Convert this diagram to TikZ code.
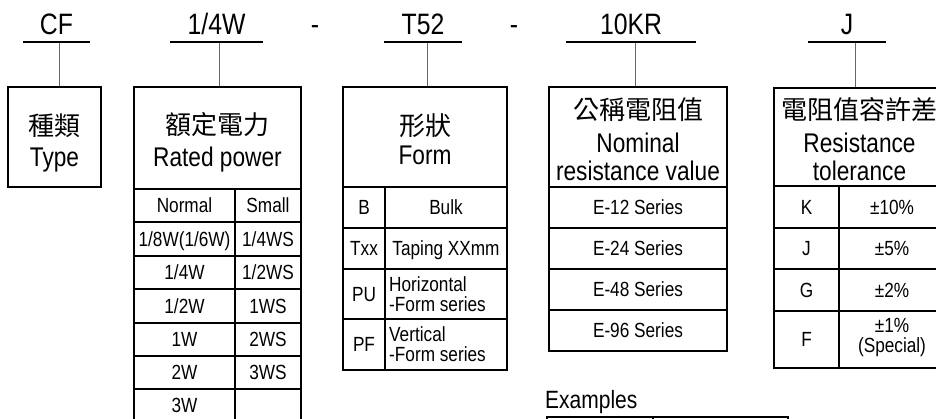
\documentclass[tikz,border=0pt]{standalone}
\usepackage{fontspec}
\setmainfont[FakeStretch=0.84]{Liberation Sans}
\newfontfamily\cjk{Noto Sans CJK TC}
\begin{document}
\begin{tikzpicture}[x=1pt,y=-1pt,line join=miter,
	code/.style={font=\fontsize{29.5}{30}\selectfont,inner sep=0pt,anchor=base},
	title/.style={font=\fontsize{27}{27}\selectfont,inner sep=0pt,anchor=base},
	zh/.style={font=\cjk\fontsize{26}{26}\selectfont,inner sep=0pt,anchor=base},
	cell/.style={font=\fontsize{20.5}{20}\selectfont,inner sep=0pt,text height=14.7pt,text depth=0pt},
	pair/.style={font=\fontsize{20.5}{20}\selectfont,inner sep=0pt,align=left,anchor=west},
	bar/.style={line width=2.7pt},
	frame/.style={line width=2.6pt},
	link/.style={line width=1pt,draw=black!60}]
	\useasboundingbox (0,0) rectangle (936,419);
	% part code
	\node[code] (cf) at (56.5,35) {CF};
	\node[code] (pw) at (216.5,35) {1/4W};
	\node[code] (dash1) at (315,35) {-};
	\node[code] (fm) at (423,35) {T52};
	\node[code] (dash2) at (514,35) {-};
	\node[code] (rv) at (631,35) {10KR};
	\node[code] (tl) at (847,35) {J};
	\foreach \l/\r/\m/\n in {23/90/59/cf,170/263/219/pw,384/462/427/fm,566/696/635/rv,808/886/855/tl}
	{
		\path (\m,42) coordinate (\n-top) (\m,87) coordinate (\n-box);
		\draw[link] (\n-top) -- (\n-box);
		\draw[bar] (\l,42) -- (\r,42);
	}
	% type
	\draw[frame] (8,87) rectangle (101,187);
	\node[zh] (cf-zh) at (54.5,136) {種類};
	\node[title] (cf-en) at (54.5,167) {Type};
	% rated power
	\draw[frame] (134,87) rectangle (301,425);
	\draw[frame] (235,189) -- (235,425);
	\foreach \y in {189,222,256,289,323,356,389}
	\draw[frame] (134,\y) -- (301,\y);
	\node[zh] (pw-zh) at (217.5,135) {額定電力};
	\node[title] (pw-en) at (217.5,167) {Rated power};
	\foreach \y/\a/\b [count=\i] in {205.5/Normal/Small,239/1\slash8W(1\slash6W)/1\slash4WS,272.5/1\slash4W/1\slash2WS,306/1\slash2W/1WS,339.5/1W/2WS,372.5/2W/3WS,405.5/3W/{}}
	{
		\node[cell] (pw-a\i) at (184.5,\y) {\a};
		\node[cell] (pw-b\i) at (268,\y) {\b};
	}
	% form
	\draw[frame] (343,87) rectangle (507,370);
	\draw[frame] (385,187) -- (385,370);
	\foreach \y in {187,228,269,319}
	\draw[frame] (343,\y) -- (507,\y);
	\node[zh] (fm-zh) at (425,136) {形狀};
	\node[title] (fm-en) at (425,164.5) {Form};
	\node[cell] (fm-a1) at (364,207.5) {B};
	\node[cell] (fm-b1) at (446,207.5) {Bulk};
	\node[cell] (fm-a2) at (364,248.5) {Txx};
	\node[cell] (fm-b2) at (446,248.5) {Taping XXmm};
	\node[cell] (fm-a3) at (364,294) {PU};
	\node[pair] (fm-b3) at (389,294) {Horizontal\\-Form series};
	\node[cell] (fm-a4) at (364,344.5) {PF};
	\node[pair] (fm-b4) at (389,344.5) {Vertical\\-Form series};
	% resistance value
	\draw[frame] (549,87) rectangle (727,351);
	\foreach \y in {187,228,269,310}
	\draw[frame] (549,\y) -- (727,\y);
	\node[zh] (rv-zh) at (638,120) {公稱電阻值};
	\node[title] (rv-en1) at (638,153) {Nominal};
	\node[title] (rv-en2) at (638,181) {resistance value};
	\foreach \y/\s [count=\i] in {207.5/12,248.5/24,289.5/48,330.5/96}
	\node[cell] (rv-s\i) at (638,\y) {E-\s\ Series};
	% tolerance
	\draw[frame] (774,88) rectangle (945,368);
	\draw[frame] (839,186) -- (839,368);
	\foreach \y in {186,228,269,311}
	\draw[frame] (774,\y) -- (945,\y);
	\node[zh] (tl-zh) at (859.5,120) {電阻值容許差};
	\node[title] (tl-en1) at (859.5,153) {Resistance};
	\node[title] (tl-en2) at (859.5,181) {tolerance};
	\foreach \y/\a/\b [count=\i] in {207/K/10,248.5/J/5,290/G/2}
	{
		\node[cell] (tl-a\i) at (806.5,\y) {\a};
		\node[cell] (tl-b\i) at (892,\y) {±\b\%};
	}
	\node[cell] (tl-a4) at (806.5,339.5) {F};
	\node[pair,align=center,anchor=center] (tl-b4) at (892,338) {±1\%\\(Special)};
	% examples
	\node[font=\fontsize{25}{25}\selectfont,inner sep=0pt,anchor=base west] (ex) at (545,408) {Examples};
	\draw[frame] (547,440) -- (547,417) -- (788,417) -- (788,440);
	\draw[frame] (653,417) -- (653,440);
\end{tikzpicture}
\end{document}
